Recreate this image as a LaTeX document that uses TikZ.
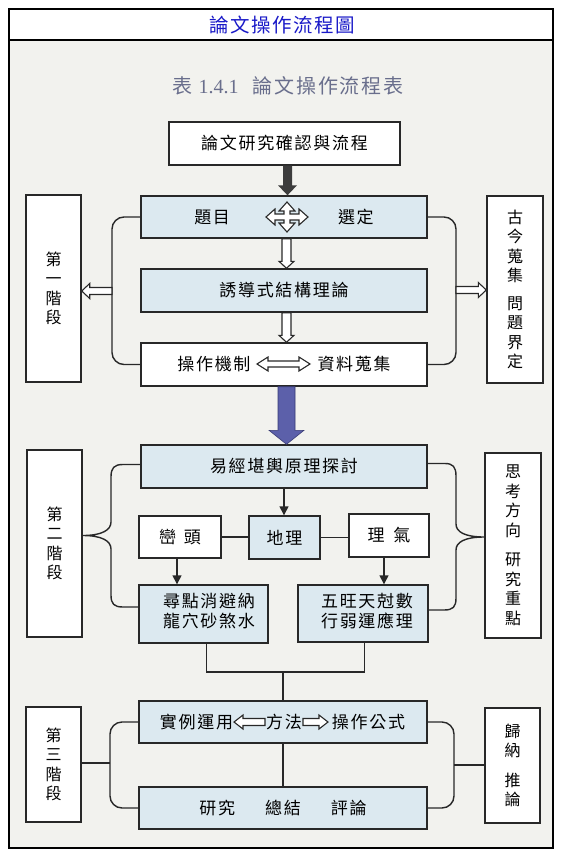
\documentclass[tikz,border=0pt]{standalone}
\usepackage{fontspec}
\setmainfont{Noto Sans CJK TC}
\newfontfamily\cjkbox{Noto Sans CJK TC}[LetterSpace=10]
\newfontfamily\cjkcap{Noto Sans CJK TC}[LetterSpace=9]
\newfontfamily\cjktitle{Noto Sans CJK TC}[LetterSpace=8]
\newfontfamily\cjkside{Noto Sans CJK TC}
\newfontfamily\latinserif{Liberation Serif}
\usetikzlibrary{calc,arrows.meta}
\definecolor{bgpaper}{RGB}{242,242,238}
\definecolor{lblue}{RGB}{220,233,240}
\definecolor{edge}{RGB}{40,40,40}
\definecolor{titleblue}{RGB}{25,25,200}
\definecolor{capgrey}{RGB}{105,110,140}
\definecolor{barrow}{RGB}{92,96,170}
\definecolor{barrowedge}{RGB}{55,58,115}
\definecolor{darrow}{RGB}{60,60,60}
\newcommand\myBoxFont{\cjkbox\fontsize{17}{20}\selectfont}
\newcommand\mySideFont{\cjkside\fontsize{16}{19.5}\selectfont}
\newcommand\myTitleFont{\cjktitle\fontsize{19.5}{22}\selectfont}
\newcommand\myCapFont{\cjkcap\fontsize{20}{24}\selectfont}
\newcommand\HollowDown[2]{\draw[hollow] let \p1=#1, \p2=#2 in (\x1-4.5pt,\y1) -- (\x1+4.5pt,\y1) -- (\x1+4.5pt,\y2+7pt) -- (\x1+7.5pt,\y2+7pt) -- (\x1,\y2) -- (\x1-7.5pt,\y2+7pt) -- (\x1-4.5pt,\y2+7pt) -- cycle;}
\newcommand\HollowLeft[2]{\draw[hollow] let \p1=#1, \p2=#2 in (\x1,\y1+3.5pt) -- (\x2+8pt,\y1+3.5pt) -- (\x2+8pt,\y1+7.5pt) -- (\x2,\y1) -- (\x2+8pt,\y1-7.5pt) -- (\x2+8pt,\y1-3.5pt) -- (\x1,\y1-3.5pt) -- cycle;}
\newcommand\HollowRight[2]{\draw[hollow] let \p1=#1, \p2=#2 in (\x1,\y1+3.5pt) -- (\x2-8pt,\y1+3.5pt) -- (\x2-8pt,\y1+7.5pt) -- (\x2,\y1) -- (\x2-8pt,\y1-7.5pt) -- (\x2-8pt,\y1-3.5pt) -- (\x1,\y1-3.5pt) -- cycle;}
\begin{document}
\begin{tikzpicture}[x=1pt,y=-1pt,
  box/.style={draw=edge,line width=1.4pt,inner sep=0pt,fill=#1,font=\myBoxFont},
  box/.default=white,
  sidebox/.style={draw=edge,line width=1.4pt,inner sep=0pt,fill=white,font=\mySideFont,align=center},
  conn/.style={draw=edge,line width=1.4pt},
  hollow/.style={draw=edge,line width=1.1pt,fill=white,line join=miter},
  arrtip/.style={-{Triangle[width=9pt,length=9pt]}},
  txt/.style={font=\myBoxFont,inner sep=0pt}
]
\useasboundingbox (0,0) rectangle (565,859);
\fill[white] (0,0) rectangle (565,859);
\fill[bgpaper] (9,40) rectangle (553,848);
\draw[line width=1.1pt] (9,9) rectangle (553,848);
\draw[line width=1.1pt] (9,40) -- (553,40);

\node[font=\myTitleFont,text=titleblue,inner sep=0pt] (title) at (282,25) {論文操作流程圖};
\node[text=capgrey,inner sep=0pt] (cap) at (288,86) {{\myCapFont 表}\hspace{6pt}{\latinserif\fontsize{20}{24}\selectfont 1.4.1}\hspace{14pt}{\myCapFont 論文操作流程表}};

% ---------- stage 1 ----------
\node[box,minimum width=231pt,minimum height=43pt] (b1) at (284.5,143.5) {論文研究確認與流程};
\node[box=lblue,minimum width=286pt,minimum height=42pt] (b2) at (284,217) {題目\hspace{108pt}選定};
\node[box=lblue,minimum width=286pt,minimum height=43pt] (b3) at (284,290.5) {誘導式結構理論};
\node[box,minimum width=286pt,minimum height=43pt] (b4) at (284,364.5) {操作機制\hspace{67pt}資料蒐集};
\node[sidebox,minimum width=55pt,minimum height=187pt] (S1) at (53.5,288.5) {第\\一\\階\\段};
\node[sidebox,minimum width=56pt,minimum height=187pt] (R1) at (515,289.5) {古\\今\\蒐\\集\\[8pt]問\\題\\界\\定};

% dark arrow b1 -> b2
\fill[darrow] let \p1=($(b1.south)+(3,0)$), \p2=($(b2.north)+(3,0)$) in
  (\x1-4.5pt,\y1) -- (\x1+4.5pt,\y1) -- (\x1+4.5pt,\y2+10pt) -- (\x1+9.5pt,\y2+10pt) -- (\x1,\y2) -- (\x1-9.5pt,\y2+10pt) -- (\x1-4.5pt,\y2+10pt) -- cycle;
\HollowDown{($(b2.south)+(2.5,0)$)}{($(b3.north)+(2.5,0)$)}
\HollowDown{($(b3.south)+(2.5,0)$)}{($(b4.north)+(2.5,0)$)}

% four-way arrow in b2
\coordinate (qa) at (287,217);
\begin{scope}[shift={(qa)}]
\draw[hollow] (21,0) -- (12,-8) -- (12,-3) -- (3,-3) -- (3,-6) -- (8,-6) -- (0,-15) -- (-8,-6) -- (-3,-6) -- (-3,-3) -- (-12,-3) -- (-12,-8) -- (-21,0) -- (-12,8) -- (-12,3) -- (-3,3) -- (-3,6) -- (-8,6) -- (0,15) -- (8,6) -- (3,6) -- (3,3) -- (12,3) -- (12,8) -- cycle;
\end{scope}

% double arrow in b4
\coordinate (da) at (283.5,364);
\begin{scope}[shift={(da)}]
\draw[hollow] (-26.5,0) -- (-15.5,-7) -- (-15.5,-3) -- (15.5,-3) -- (15.5,-7) -- (26.5,0) -- (15.5,7) -- (15.5,3) -- (-15.5,3) -- (-15.5,7) -- cycle;
\end{scope}

% braces stage 1
\coordinate (L1) at (112,291);
\coordinate (K1) at (456,290);
\draw[conn,rounded corners=12pt] (b2.west) -| (L1) |- (b4.west);
\draw[conn,rounded corners=12pt] (b2.east) -| (K1) |- (b4.east);
\HollowLeft{(L1)}{(L1 -| S1.east)}
\HollowRight{(K1)}{(K1 -| R1.west)}

% blue arrow b4 -> b5
\node[box=lblue,minimum width=286pt,minimum height=43pt] (b5) at (284,466.5) {易經堪輿原理探討};
\draw[fill=barrow,draw=barrowedge,line width=0.6pt] let \p1=($(b4.south)+(2.5,0)$), \p2=($(b5.north)+(2.5,0)$) in
  (\x1-8.5pt,\y1) -- (\x1+8.5pt,\y1) -- (\x1+8.5pt,\y2+14pt) -- (\x1+17.5pt,\y2+14pt) -- (\x1,\y2) -- (\x1-17.5pt,\y2+14pt) -- (\x1-8.5pt,\y2+14pt) -- cycle;

% ---------- stage 2 ----------
\node[box,minimum width=82pt,minimum height=42pt] (b6) at (180,537) {巒\hspace{8pt}頭};
\node[box=lblue,minimum width=71pt,minimum height=43pt] (b7) at (284.5,537.5) {地理};
\node[box,minimum width=80pt,minimum height=43pt] (b8) at (389,535.5) {理\hspace{9pt}氣};
\node[box=lblue,minimum width=129pt,minimum height=58pt] (b9) at (203.5,614) {};
\node[box=lblue,minimum width=130pt,minimum height=57pt] (b10) at (363,613.5) {};
\node[txt,align=center] (t9) at (209,611) {尋點消避納\\龍穴砂煞水};
\node[txt,align=center] (t10) at (367,611) {五旺天尅數\\行弱運應理};
\node[sidebox,minimum width=55pt,minimum height=187pt] (S2) at (54.5,543.5) {第\\二\\階\\段};
\node[sidebox,minimum width=56pt,minimum height=185pt] (R2) at (513,545.5) {思\\考\\方\\向\\[10pt]研\\究\\重\\點};

\draw[conn,arrtip] (b5.south) -- (b5.south |- b7.north);
\draw[conn] (b6.east) -- (b6.east -| b7.west);
\draw[conn] (b7.east) -- (b7.east -| b8.west);
\draw[conn,arrtip] ($(b6.south)+(-3,0)$) -- ($(b6.south |- b9.north)+(-3,0)$);
\draw[conn,arrtip] ($(b8.south)+(-5,0)$) -- ($(b8.south |- b10.north)+(-5,0)$);

\coordinate (c5w) at ($(b5.west)+(0,-2)$);
\coordinate (c5e) at ($(b5.east)+(0,-3)$);
\coordinate (c9w) at ($(b9.west)+(0,-7)$);
\coordinate (c10e) at ($(b10.east)+(0,-3.5)$);
\coordinate (cuspL) at ($(S2.east |- b7.center)+(0,-2)$);
\coordinate (cuspR) at ($(R2.west |- b7.center)+(0,-0.5)$);
\draw[conn] (c5w) -- (123,464.5) .. controls (114,464.5) and (111,468) .. (111,477) -- (111,522)
  .. controls (111,530) and (102,535.5) .. (cuspL)
  .. controls (102,535.5) and (111,541) .. (111,549) -- (111,595)
  .. controls (111,604) and (114,607) .. (123,607) -- (c9w);
\draw[conn] (c5e) -- (445,463.5) .. controls (453,463.5) and (456,467) .. (456,476) -- (456,524)
  .. controls (456,532) and (465,537) .. (cuspR)
  .. controls (465,537) and (456,542) .. (456,550) -- (456,598)
  .. controls (456,607) and (453,610) .. (444,610) -- (c10e);

% ---------- stage 3 ----------
\node[box=lblue,minimum width=288pt,minimum height=42pt] (b11) at (283,722) {};
\node[txt] (t11a) at (196.5,722) {實例運用};
\node[txt] (t11b) at (284,722) {方法};
\node[txt] (t11c) at (368.5,722) {操作公式};
\node[box=lblue,minimum width=288pt,minimum height=42pt] (b12) at (283,808) {研究\hspace{30pt}總結\hspace{30pt}評論};
\node[sidebox,minimum width=55pt,minimum height=115pt] (S3) at (53.5,764.5) {第\\三\\階\\段};
\node[sidebox,minimum width=55pt,minimum height=115pt] (R3) at (512.5,765.5) {歸\\納\\[10pt]推\\論};

\coordinate (la) at (249.5,722);
\begin{scope}[shift={(la)}]
\draw[hollow] (-15.5,0) -- (-6.5,-7) -- (-6.5,-3.5) -- (15.5,-3.5) -- (15.5,3.5) -- (-6.5,3.5) -- (-6.5,7) -- cycle;
\end{scope}
\coordinate (ra) at (315.5,722);
\begin{scope}[shift={(ra)}]
\draw[hollow] (12.5,0) -- (3.5,-7) -- (3.5,-3.5) -- (-12.5,-3.5) -- (-12.5,3.5) -- (3.5,3.5) -- (3.5,7) -- cycle;
\end{scope}

\coordinate (J) at (283,672);
\draw[conn] ($(b9.south)+(3,0)$) |- (J) -| ($(b10.south)+(1.5,0)$);
\draw[conn] (J) -- (J |- b11.north);
\draw[conn] (b11.south) -- (b12.north);

\coordinate (L3) at (110,763);
\coordinate (K3) at (454,765);
\draw[conn,rounded corners=12pt] (b11.west) -| (L3) |- (b12.west);
\draw[conn,rounded corners=12pt] (b11.east) -| (K3) |- (b12.east);
\draw[conn] (L3) -- (L3 -| S3.east);
\draw[conn] (K3) -- (K3 -| R3.west);
\end{tikzpicture}
\end{document}
